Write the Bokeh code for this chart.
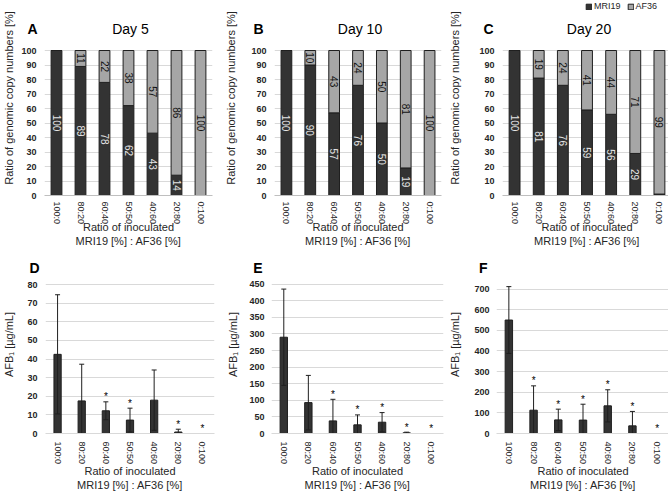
import math
from bokeh.plotting import figure
from bokeh.layouts import row, column
from bokeh.models import (ColumnDataSource, Legend, LegendItem, FixedTicker,
                          Range1d, FactorRange, Label, LinearAxis)
from bokeh.core.properties import value
from bokeh.embed import file_html
from bokeh.resources import INLINE

FONT = "Liberation Sans"

ratios = ["100:0", "80:20", "60:40", "50:50", "40:60", "20:80", "0:100"]
x_title = "Ratio of inoculated\nMRI19 [%] : AF36 [%]"

# Top row: ratio of genomic copy numbers [%]
mri19_day5 = [100, 89, 78, 62, 43, 14, 0]
af36_day5 = [0, 11, 22, 38, 57, 86, 100]
mri19_day10 = [100, 90, 57, 76, 50, 19, 0]
af36_day10 = [0, 10, 43, 24, 50, 81, 100]
mri19_day20 = [100, 81, 76, 59, 56, 29, 1]
af36_day20 = [0, 19, 24, 41, 44, 71, 99]

# Bottom row: AFB1 [ug/mL], mean and error
afb1_d = [42.5, 17.5, 12.2, 7.2, 17.9, 0.8, 0]
afb1_err_d = [32, 19.7, 4.8, 6.4, 16.2, 1.5, 0]
star_d = [False, False, True, True, False, True, True]
afb1_e = [290, 93, 38, 26, 34, 2, 0]
afb1_err_e = [145, 82, 65, 30, 29, 2, 0]
star_e = [False, False, True, True, True, True, True]
afb1_f = [550, 113, 66, 65, 134, 37, 0]
afb1_err_f = [162, 118, 52, 77, 78, 70, 0]
star_f = [False, True, True, True, True, True, True]

DARK = "#333333"
GRAY = "#a6a6a6"
EDGE = "#1f1f1f"
GRID = "#d9d9d9"
TXT = "#262626"


def base_fig(left, fw, right, top, fh, bottom, ymax, ticks, letter, letter_y,
             letter_left, ystand):
    p = figure(x_range=FactorRange(*ratios), y_range=Range1d(0, ymax),
               frame_width=fw, frame_height=fh,
               min_border_left=left, min_border_right=right,
               min_border_top=top, min_border_bottom=bottom,
               output_backend="svg", toolbar_location=None)
    p.outline_line_color = None
    p.background_fill_color = "white"
    p.border_fill_color = "white"
    p.xgrid.grid_line_color = None
    p.ygrid.grid_line_color = GRID
    p.yaxis.ticker = FixedTicker(ticks=ticks)
    p.ygrid.ticker = FixedTicker(ticks=ticks)
    main = p.yaxis[0]
    for ax in (p.xaxis[0], main):
        ax.major_tick_line_color = None
        ax.minor_tick_line_color = None
        ax.major_tick_out = 0
        ax.major_tick_in = 0
        ax.major_label_text_font = FONT
        ax.major_label_text_color = TXT
        ax.axis_label_text_font = FONT
        ax.axis_label_text_font_style = "normal"
        ax.axis_label_text_color = TXT
        ax.axis_label_text_font_size = "11px"
    main.axis_line_color = None
    main.major_label_text_font_size = "9px"
    main.major_label_text_font_style = "bold"
    main.axis_label_standoff = ystand
    # panel letter: an axis next to the frame carrying one labelled tick
    lw = 10
    lax = LinearAxis(ticker=FixedTicker(ticks=[letter_y]),
                     major_label_overrides={letter_y: letter},
                     axis_line_color=None, major_tick_line_color=None,
                     minor_tick_line_color=None, major_tick_out=0, major_tick_in=0,
                     major_label_standoff=left - letter_left - lw,
                     major_label_text_font=FONT, major_label_text_font_size="14px",
                     major_label_text_font_style="bold", major_label_text_color="black")
    main.major_label_standoff = letter_left - left + 5
    p.left = [lax, main]
    p.xaxis.major_label_text_font_size = "9px"
    p.xaxis.major_label_orientation = -math.pi / 2
    p.xaxis.axis_label = x_title
    return p


def top_chart(let, day, mri, af, left, fw, right, ystand, letter_left):
    # frame runs from the top edge down to the zero line (y=195); 100 % sits at y=50
    p = base_fig(left, fw, right, 0, 195, 57, 100 * 195 / 145,
                 list(range(0, 101, 10)), let, 115, letter_left, ystand)
    src = ColumnDataSource(dict(ratio=ratios, mri=mri, af=af,
                                tot=[m + a for m, a in zip(mri, af)]))
    r1 = p.vbar(x="ratio", top="mri", bottom=0, width=0.45, source=src,
                fill_color=DARK, line_color=EDGE, line_width=1)
    r2 = p.vbar(x="ratio", top="tot", bottom="mri", width=0.45, source=src,
                fill_color=GRAY, line_color=EDGE, line_width=1)
    lm = [(r, m / 2, str(m)) for r, m in zip(ratios, mri) if m >= 5]
    la = [(r, m + a / 2, str(a)) for r, m, a in zip(ratios, mri, af) if a >= 5]
    for lab, col in ((lm, "#e6e6e6"), (la, "#111111")):
        s = ColumnDataSource(dict(x=[t[0] for t in lab], y=[t[1] for t in lab],
                                  t=[t[2] for t in lab]))
        p.text(x="x", y="y", text="t", source=s, angle=-math.pi / 2,
               text_align="center", text_baseline="middle",
               text_font=value(FONT), text_font_size="10px", text_color=col)
    # centre of the categorical axis (synthetic coordinate)
    p.add_layout(Label(x=len(ratios) / 2, y=115, text=day, text_font=FONT,
                       text_font_size="14px", text_color="black",
                       text_align="center", text_baseline="middle", x_offset=2))
    p.yaxis[1].axis_label = "Ratio of genomic copy numbers [%]"
    p.xaxis.axis_line_color = "#bfbfbf"
    p.xaxis.major_label_standoff = 6
    p.xaxis.axis_label_standoff = -6
    return p, r1, r2


def bottom_chart(let, vals, errs, stars, ytop, ypx, ticks, letter_y, left, fw, right,
                 ystand, letter_left):
    # frame runs from y=255 down to the zero line (y=433)
    p = base_fig(left, fw, right, 3, 178, 60, ytop * 178 / ypx, ticks, let, letter_y,
                 letter_left, ystand)
    src = ColumnDataSource(dict(ratio=ratios, v=vals))
    p.vbar(x="ratio", top="v", bottom=0, width=0.3, source=src,
           fill_color=DARK, line_color=EDGE, line_width=1)
    ex = [r for r, e in zip(ratios, errs) if e > 0]
    hi = [v + e for v, e in zip(vals, errs) if e > 0]
    lo = [v - e for v, e in zip(vals, errs) if e > 0]
    es = ColumnDataSource(dict(x=ex, hi=hi, lo=lo))
    p.segment(x0="x", y0="lo", x1="x", y1="hi", source=es, line_color=EDGE, line_width=1)
    p.scatter(x="x", y="hi", source=es, marker="dash", size=5, line_color=EDGE, line_width=1)
    p.scatter(x="x", y="lo", source=es, marker="dash", size=5, line_color=EDGE, line_width=1)
    sx = [r for r, s in zip(ratios, stars) if s]
    sy = [v + e for v, e, s in zip(vals, errs, stars) if s]
    ss = ColumnDataSource(dict(x=sx, y=sy, t=["*"] * len(sx)))
    p.text(x="x", y="y", text="t", source=ss, y_offset=-5, text_align="center",
           text_baseline="middle", text_font=value(FONT), text_font_size="10px",
           text_color="black")
    p.yaxis[1].axis_label = "AFB\u2081 [\u00b5g/mL]"
    p.xaxis.axis_line_color = GRID
    p.xaxis.major_label_standoff = 8
    p.xaxis.axis_label_standoff = -2
    return p


pa, _, _ = top_chart("A", "Day 5", mri19_day5, af36_day5, 42, 168, 10, 3, 25)
pb, _, _ = top_chart("B", "Day 10", mri19_day10, af36_day10, 48, 167, 5, 11, 247 - 220)
pc, rm, ra = top_chart("C", "Day 20", mri19_day20, af36_day20, 52, 169, 7, 15, 473 - 440)

legend = Legend(items=[LegendItem(label="MRI19", renderers=[rm]),
                       LegendItem(label="AF36", renderers=[ra])],
                orientation="horizontal", location=(83, 184),
                label_text_font=FONT, label_text_font_size="9px", label_text_color=TXT,
                glyph_width=7, glyph_height=7, label_standoff=2, spacing=6,
                padding=0, margin=0, label_height=10, border_line_color=None,
                background_fill_alpha=0)
pc.add_layout(legend, "center")

pd_ = bottom_chart("D", afb1_d, afb1_err_d, star_d, 80, 149, list(range(0, 81, 10)), 89,
                   41, 169, 10, 9, 25)
pe = bottom_chart("E", afb1_e, afb1_err_e, star_e, 450, 149.4, list(range(0, 451, 50)), 498,
                  46, 172, 2, 7, 247 - 220)
pf = bottom_chart("F", afb1_f, afb1_err_f, star_f, 700, 144.4, list(range(0, 701, 100)), 800,
                  51, 173, 4, 10, 472 - 440)

layout = column(row(pa, pb, pc), row(pd_, pe, pf))
open("out.html", "w").write(file_html(layout, INLINE))
